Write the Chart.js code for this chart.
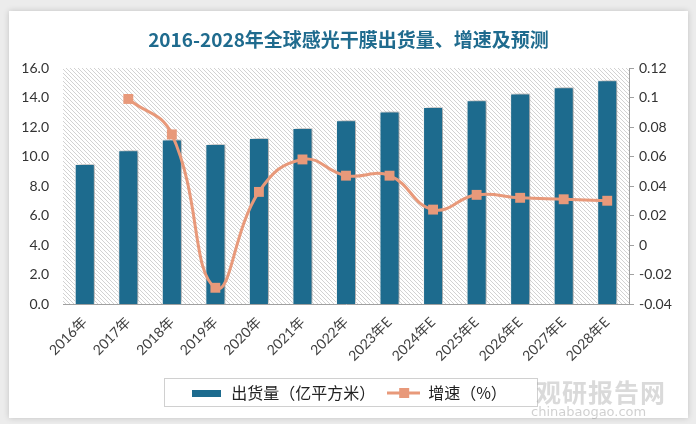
<!DOCTYPE html>
<html>
<head>
<meta charset="utf-8">
<script src="https://cdn.jsdelivr.net/npm/chart.js@4"></script>
<style>
  body { margin: 0; width: 696px; height: 424px; background: #ececec; position: relative; overflow: hidden; }
  .card { position: absolute; left: 9px; top: 11px; width: 679px; height: 407px; background: #fff; box-shadow: 0 0 6px rgba(0,0,0,0.18); }
  .title { position: absolute; left: 0; width: 679px; top: 14px; text-align: center; font: bold 19px "Noto Sans CJK SC", sans-serif; color: #1f6b8e; }
  .chart-box { position: absolute; left: 0; top: 0; width: 679px; height: 407px; }
  .wm1 { position: absolute; left: 527px; top: 362px; font: bold 25px "Noto Sans CJK SC", sans-serif; color: rgba(150,150,150,0.35); letter-spacing: 1px; }
  .wm2 { position: absolute; left: 522px; top: 393px; font: 13px "DejaVu Sans", sans-serif; color: rgba(150,150,150,0.45); }
</style>
</head>
<body>
<div class="card">
  <div class="chart-box"><canvas id="myChart"></canvas></div>
  <div class="title">2016-2028年全球感光干膜出货量、增速及预测</div>
  <div class="wm1">观研报告网</div>
  <div class="wm2">chinabaogao.com</div>
</div>
<script>
// data
const years = ['2016年', '2017年', '2018年', '2019年', '2020年', '2021年', '2022年',
               '2023年E', '2024年E', '2025年E', '2026年E', '2027年E', '2028年E'];
const shipment = [9.5, 10.42, 11.16, 10.85, 11.25, 11.93, 12.45, 13.05, 13.35, 13.82, 14.27, 14.7, 15.17];
const growth = [null, 0.099, 0.075, -0.029, 0.036, 0.058, 0.047, 0.047, 0.024, 0.034, 0.032, 0.031, 0.030];
const leftTicks = [0, 2, 4, 6, 8, 10, 12, 14, 16];
const rightTicks = [-0.04, -0.02, 0, 0.02, 0.04, 0.06, 0.08, 0.1, 0.12];

const barColor = '#1d6b8e';
const lineColor = '#e8997a';

// dotted hatch pattern for the plot area
function makeHatch() {
    const c = document.createElement('canvas');
    c.width = 4; c.height = 4;
    const g = c.getContext('2d');
    g.fillStyle = '#fff';
    g.fillRect(0, 0, 4, 4);
    g.fillStyle = '#d2d2d2';
    for (let i = 0; i < 4; i++) {
        g.fillRect(i, i, 1, 1);
    }
    return c;
}

// legend swatches
function barSwatch() {
    const c = document.createElement('canvas');
    c.width = 29; c.height = 7;
    const g = c.getContext('2d');
    g.fillStyle = barColor;
    g.fillRect(0, 0, 29, 7);
    return c;
}
function lineSwatch() {
    const c = document.createElement('canvas');
    c.width = 33; c.height = 10;
    const g = c.getContext('2d');
    g.strokeStyle = lineColor;
    g.lineWidth = 3;
    g.beginPath(); g.moveTo(0, 5); g.lineTo(33, 5); g.stroke();
    g.fillStyle = lineColor;
    g.fillRect(12, 0, 10, 10);
    return c;
}

const plotBg = {
    id: 'plotBg',
    beforeDatasetsDraw(chart) {
        const a = chart.chartArea, ctx = chart.ctx;
        ctx.save();
        ctx.fillStyle = ctx.createPattern(makeHatch(), 'repeat');
        ctx.fillRect(a.left, a.top, a.right - a.left, a.bottom - a.top);
        ctx.restore();
    },
    beforeDatasetDraw(chart, args) {
        if (args.meta.type === 'bar') {
            chart.ctx.save();
            chart.ctx.shadowColor = 'rgba(0,0,0,0.4)';
            chart.ctx.shadowBlur = 6;
            chart.ctx.shadowOffsetX = 3;
            chart.ctx.shadowOffsetY = -1;
        }
    },
    afterDatasetDraw(chart, args) {
        if (args.meta.type === 'bar') chart.ctx.restore();
    },
    afterDraw(chart) {
        // frame around the legend
        const boxes = chart.legend.legendHitBoxes;
        if (!boxes || !boxes.length) return;
        const ctx = chart.ctx;
        const l = Math.min(...boxes.map(b => b.left)) - 26;
        const r = Math.max(...boxes.map(b => b.left + b.width)) + 30;
        const t = Math.min(...boxes.map(b => b.top)) - 7;
        const bt = Math.max(...boxes.map(b => b.top + b.height)) + 5;
        ctx.save();
        ctx.strokeStyle = '#d0d0d0';
        ctx.lineWidth = 1;
        ctx.strokeRect(Math.round(l) + 0.5, Math.round(t) + 0.5, Math.round(r - l), Math.round(bt - t));
        ctx.restore();
    }
};

const ctx = document.getElementById('myChart');

new Chart(ctx, {
    data: {
        labels: years,
        datasets: [{
            type: 'line',
            label: '增速（%）',
            data: growth,
            yAxisID: 'y1',
            borderColor: lineColor,
            backgroundColor: lineColor,
            borderWidth: 3,
            tension: 0.45,
            pointStyle: 'rect',
            pointRadius: 7,
            pointBorderWidth: 0,
            order: 0
        }, {
            type: 'bar',
            label: '出货量（亿平方米）',
            data: shipment,
            yAxisID: 'y',
            backgroundColor: barColor,
            borderColor: '#ffffff',
            borderWidth: 1,
            barPercentage: 0.46,
            categoryPercentage: 1,
            order: 1
        }]
    },
    options: {
        responsive: true,
        maintainAspectRatio: false,
        animation: false,
        layout: { padding: { top: 57, bottom: 7, left: 0, right: 0 } },
        plugins: {
            title: { display: false },
            tooltip: { enabled: false },
            legend: {
                position: 'bottom',
                reverse: true,
                labels: {
                    usePointStyle: true,
                    pointStyleWidth: 33,
                    padding: 12,
                    color: '#222',
                    font: { size: 16, family: '"Noto Sans CJK SC", sans-serif' },
                    generateLabels(chart) {
                        return chart.data.datasets.map((ds, i) => ({
                            text: ds.label,
                            datasetIndex: i,
                            pointStyle: ds.type === 'bar' ? barSwatch() : lineSwatch(),
                            fillStyle: ds.backgroundColor,
                            strokeStyle: ds.backgroundColor,
                            lineWidth: 0,
                            fontColor: '#222'
                        }));
                    }
                }
            }
        },
        scales: {
            x: {
                grid: { display: false },
                border: { display: true, color: '#a0a0a0' },
                ticks: {
                    maxRotation: 45, minRotation: 45,
                    color: '#404040',
                    padding: 2,
                    font: { size: 14, family: 'Lato, "Noto Sans CJK SC", sans-serif' }
                },
                afterFit(scale) { scale.height = 69; }
            },
            y: {
                position: 'left',
                min: 0, max: 16,
                afterBuildTicks(scale) { scale.ticks = leftTicks.map(v => ({ value: v })); },
                grid: { display: false },
                border: { display: false },
                ticks: {
                    color: '#333',
                    padding: 6,
                    font: { size: 14, family: 'Lato, sans-serif' },
                    callback: v => v.toFixed(1)
                },
                afterFit(scale) { scale.width = 54; }
            },
            y1: {
                position: 'right',
                min: -0.04, max: 0.12,
                afterBuildTicks(scale) { scale.ticks = rightTicks.map(v => ({ value: v })); },
                grid: { drawOnChartArea: false, drawTicks: true, tickLength: 5, color: '#a0a0a0' },
                border: { display: true, color: '#a0a0a0' },
                ticks: {
                    color: '#333',
                    padding: 5,
                    font: { size: 14, family: 'Lato, sans-serif' },
                    callback: v => String(Number(v.toFixed(2)))
                },
                afterFit(scale) { scale.width = 59; }
            }
        }
    },
    plugins: [plotBg]
});
</script>
</body>
</html>
